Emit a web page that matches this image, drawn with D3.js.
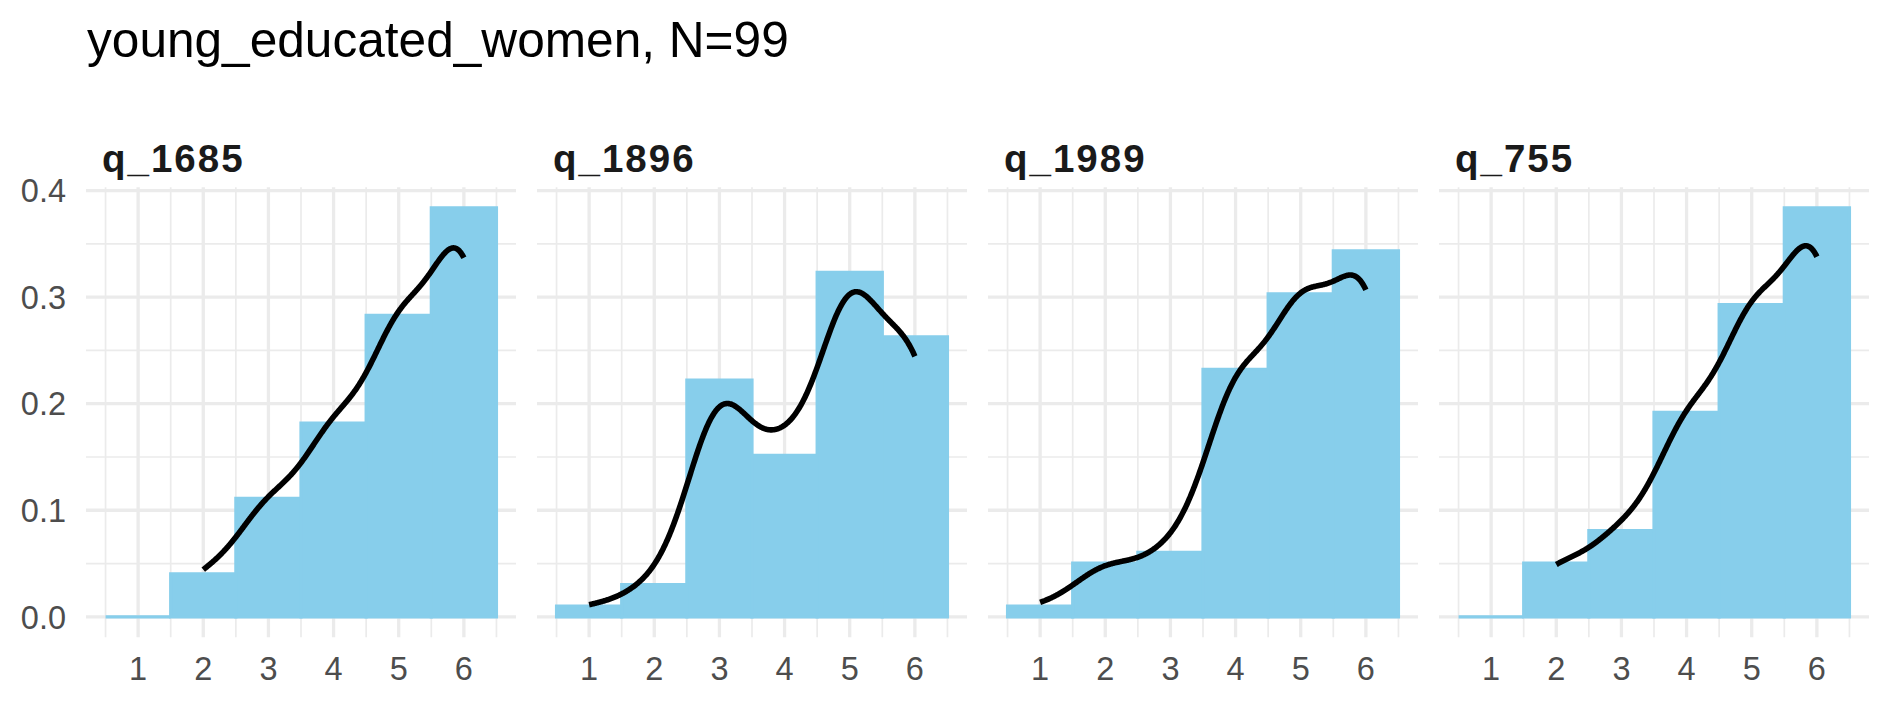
<!DOCTYPE html>
<html><head><meta charset="utf-8">
<script src="https://cdn.jsdelivr.net/npm/d3@7"></script>
<style>
body{margin:0;background:#fff;}
svg{display:block;font-family:"Liberation Sans",Arial,Helvetica,sans-serif;}
</style>
</head><body>
<svg id="chart" width="1889" height="708"></svg>
<script>
// ---------------- data ----------------
const chartTitle = "young_educated_women, N=99";
const sampleSize = 99;
const panelNames = ["q_1685", "q_1896", "q_1989", "q_755"];
const categories = [1, 2, 3, 4, 5, 6];
const q_1685 = [0, 4, 11, 18, 28, 38];
const q_1896 = [1, 3, 22, 15, 32, 26];
const q_1989 = [1, 5, 6, 23, 30, 34];
const q_755  = [0, 5, 8, 19, 29, 38];
const seriesCounts = [q_1685, q_1896, q_1989, q_755];
const xTickLabels = [1, 2, 3, 4, 5, 6];
const yTickLabels = [0, 0.1, 0.2, 0.3, 0.4];
const densityBandwidth = 0.5;   // gaussian kernel bandwidth of the density curve
const binWidth = 1;

// ---------------- layout ----------------
const W = 1889, H = 708;
const panelLeft0 = 86, panelW = 430, panelGap = 21;
const panelTop = 187.3, panelBottom = 637.3;
const barColor = "#87CEEB";
const gridColor = "#EBEBEB";

const svg = d3.select("#chart");

// scales (ggplot-like 5% expansion)
const xMin = d3.min(categories) - binWidth / 2, xMax = d3.max(categories) + binWidth / 2;
const xPad = (xMax - xMin) * 0.05;
const props = seriesCounts.map(c => c.map(v => v / (sampleSize * binWidth)));
const yMaxData = d3.max(props.flat());
const yScale = d3.scaleLinear()
  .domain([-0.05 * yMaxData, 1.05 * yMaxData])
  .range([panelBottom, panelTop]);

const xMinor = d3.range(xMin, xMax + 0.001, 1);
const yMinor = d3.range(0.05, 0.4, 0.1);

// title
svg.append("text")
  .attr("x", panelLeft0 + 1).attr("y", 57)
  .attr("font-size", 49.6).attr("fill", "#000")
  .text(chartTitle);

function gauss(u) { return Math.exp(-0.5 * u * u) / Math.sqrt(2 * Math.PI); }

panelNames.forEach((name, p) => {
  const left = panelLeft0 + p * (panelW + panelGap);
  const x = d3.scaleLinear().domain([xMin - xPad, xMax + xPad]).range([left, left + panelW]);
  const g = svg.append("g");

  // minor grid
  g.selectAll(".vminor").data(xMinor).join("line")
    .attr("x1", d => x(d)).attr("x2", d => x(d))
    .attr("y1", panelTop).attr("y2", panelBottom)
    .attr("stroke", gridColor).attr("stroke-width", 1.7);
  g.selectAll(".hminor").data(yMinor).join("line")
    .attr("x1", left).attr("x2", left + panelW)
    .attr("y1", d => yScale(d)).attr("y2", d => yScale(d))
    .attr("stroke", gridColor).attr("stroke-width", 1.7);
  // major grid
  g.selectAll(".vmajor").data(xTickLabels).join("line")
    .attr("x1", d => x(d)).attr("x2", d => x(d))
    .attr("y1", panelTop).attr("y2", panelBottom)
    .attr("stroke", gridColor).attr("stroke-width", 3.3);
  g.selectAll(".hmajor").data(yTickLabels).join("line")
    .attr("x1", left).attr("x2", left + panelW)
    .attr("y1", d => yScale(d)).attr("y2", d => yScale(d))
    .attr("stroke", gridColor).attr("stroke-width", 3.3);

  // bars (paths so zero-height bins still show their outline)
  const bars = categories.map((c, i) => ({ c, v: props[p][i] }));
  g.selectAll(".bar").data(bars).join("path")
    .attr("d", d => {
      const x0 = x(d.c - binWidth / 2), x1 = x(d.c + binWidth / 2);
      const y0 = yScale(0), y1 = yScale(d.v);
      return `M${x0},${y0}H${x1}V${y1}H${x0}Z`;
    })
    .attr("fill", barColor).attr("stroke", barColor).attr("stroke-width", 3.2)
    .attr("stroke-linejoin", "miter");

  // density curve (gaussian KDE of the same counts, over the data range)
  const counts = seriesCounts[p];
  const present = categories.filter((c, i) => counts[i] > 0);
  const lo = d3.min(present), hi = d3.max(present);
  const nPts = 512;
  const dens = d3.range(nPts).map(k => {
    const xv = lo + (hi - lo) * k / (nPts - 1);
    let s = 0;
    categories.forEach((c, i) => { s += counts[i] * gauss((xv - c) / densityBandwidth); });
    return [xv, s / (sampleSize * densityBandwidth)];
  });
  g.append("path")
    .attr("d", d3.line().x(d => x(d[0])).y(d => yScale(d[1]))(dens))
    .attr("fill", "none").attr("stroke", "#000").attr("stroke-width", 5.6)
    .attr("stroke-linecap", "butt").attr("stroke-linejoin", "round");

  // x axis labels
  g.selectAll(".xlab").data(xTickLabels).join("text")
    .attr("x", d => x(d)).attr("y", 680)
    .attr("text-anchor", "middle").attr("font-size", 32.5).attr("fill", "#4D4D4D")
    .text(d => d);

  // strip label
  g.append("text")
    .attr("x", left + 16).attr("y", 172)
    .attr("font-size", 38.5).attr("font-weight", "bold").attr("fill", "#1A1A1A")
    .attr("letter-spacing", 2)
    .text(name);
});

// y axis labels (first panel only)
svg.selectAll(".ylab").data(yTickLabels).join("text")
  .attr("x", 66).attr("y", d => yScale(d)).attr("dy", "0.36em")
  .attr("text-anchor", "end").attr("font-size", 32.5).attr("fill", "#4D4D4D")
  .text(d => d3.format(".1f")(d));
</script>
</body></html>
